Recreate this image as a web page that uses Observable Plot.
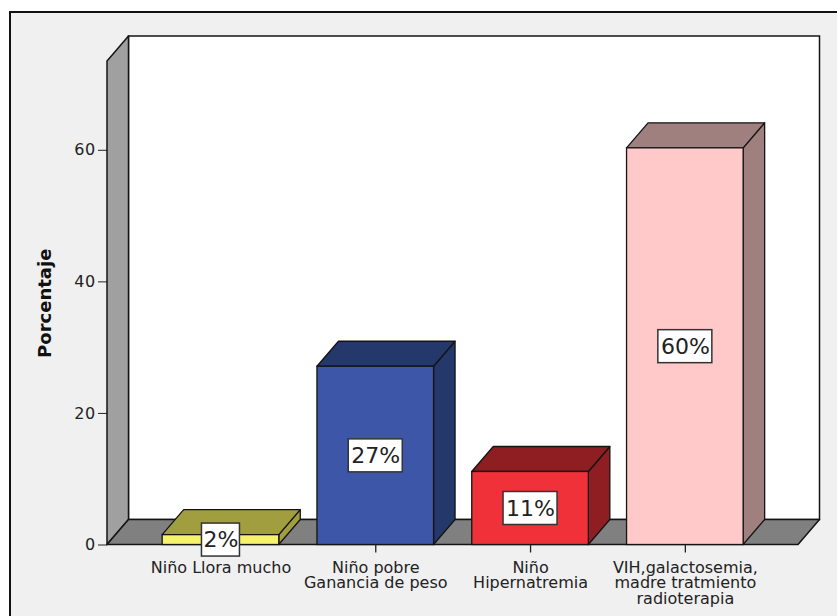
<!DOCTYPE html>
<html>
<head>
<meta charset="utf-8">
<script src="https://cdn.jsdelivr.net/npm/d3@7"></script>
<script src="https://cdn.jsdelivr.net/npm/@observablehq/plot@0.6"></script>
<style>
  body { margin: 0; background: white; }
  #wrap { position: relative; width: 837px; height: 616px; overflow: hidden; background: white; }
  #outer { position: absolute; left: 9px; top: 11px; width: 900px; height: 700px; border: 2px solid #111; background: #f0f0f0; }
  #chart { position: absolute; left: 0; top: 0; }
  g[aria-label="xlabels"] text { letter-spacing: 0.6px; }
  g[aria-label="y-axis tick label"] text { letter-spacing: 0.4px; }
</style>
</head>
<body>
<div id="wrap"><div id="outer"></div><div id="chart"></div></div>
<script>
// ---- data ----
const categories = [
  "Niño Llora mucho",
  "Niño pobre\nGanancia de peso",
  "Niño\nHipernatremia",
  "VIH,galactosemia,\nmadre tratmiento\nradioterapia"
];
const values = [1.5, 27.1, 11.1, 60.3];
const yTicks = [0, 20, 40, 60];
const frontColors = ["#f7f26c", "#3e56a8", "#f0313a", "#ffc9c9"];
const sideColors = ["#a19e40", "#25386b", "#8f1e22", "#a07f7f"];

// ---- layout constants (pixels) ----
const W = 837, H = 616;
const mL = 107, mR = 39, mT = 61, mB = 71.5;
const xDomain = [-0.733, 3.731];
const yDomain = [0, 73.5];
const pxPerX = (W - mL - mR) / (xDomain[1] - xDomain[0]);
const pxPerY = (H - mT - mB) / (yDomain[1] - yDomain[0]);
const DX = 21.5 / pxPerX;   // depth offset in x units
const DY = 25 / pxPerY;     // depth offset in y units
const HW = 58.3 / pxPerX;   // bar half-width
const BH = 33 / pxPerY;     // label box height

const bars = categories.map((c, i) => ({
  i, cat: c, v: values[i], front: frontColors[i], side: sideColors[i],
  label: Math.round(values[i]) + "%"
}));

const [xL, xR] = xDomain;
const yT = yDomain[1];

const backWall = [{x1: xL + DX, x2: xR + DX, y1: DY, y2: yT + DY}];
const leftWall = [
  {x: xL, y1: 0, y2: yT},
  {x: xL + DX, y1: DY, y2: yT + DY}
];
const floor = [
  {y: 0, x1: xL, x2: xR},
  {y: DY, x1: xL + DX, x2: xR + DX}
];
const sides = bars.flatMap(b => [
  {bar: b.i, x: b.i + HW, y1: 0, y2: b.v, fill: b.side},
  {bar: b.i, x: b.i + HW + DX, y1: DY, y2: b.v + DY, fill: b.side}
]);
const tops = bars.flatMap(b => [
  {bar: b.i, y: b.v, x1: b.i - HW, x2: b.i + HW, fill: b.side},
  {bar: b.i, y: b.v + DY, x1: b.i - HW + DX, x2: b.i + HW + DX, fill: b.side}
]);
const boxW = d => (16 * d.label.length + 6) / pxPerX;

const edge = "#141414";

const chart = Plot.plot({
  width: W, height: H,
  marginLeft: mL, marginRight: mR, marginTop: mT, marginBottom: mB,
  style: {background: "transparent", fontFamily: "DejaVu Sans", fontSize: "16px", color: "#222", overflow: "visible"},
  x: {domain: xDomain, axis: null},
  y: {domain: yDomain, ticks: yTicks, tickSize: 9, tickPadding: 3, label: null},
  color: {type: "identity"},
  marks: [
    Plot.rect(backWall, {x1: "x1", x2: "x2", y1: "y1", y2: "y2", fill: "white", stroke: edge, strokeWidth: 1.5}),
    Plot.area(leftWall, {x1: "x", y1: "y1", y2: "y2", fill: "#a0a0a0", stroke: edge, strokeWidth: 1.5}),
    Plot.area(floor, {y1: "y", x1: "x1", x2: "x2", fill: "#808080", stroke: edge, strokeWidth: 1.5}),
    Plot.area(sides, {x1: "x", y1: "y1", y2: "y2", z: "bar", fill: "fill", stroke: edge, strokeWidth: 1.3}),
    Plot.area(tops, {y1: "y", x1: "x1", x2: "x2", z: "bar", fill: "fill", stroke: edge, strokeWidth: 1.3}),
    Plot.rect(bars, {x1: d => d.i - HW, x2: d => d.i + HW, y1: 0, y2: "v", fill: "front", stroke: edge, strokeWidth: 1.3}),
    Plot.ruleX(bars, {x: "i", y1: 0, y2: -8 / pxPerY, stroke: "#222", strokeWidth: 1.3}),
    Plot.rect(bars, {
      x1: d => d.i - boxW(d) / 2, x2: d => d.i + boxW(d) / 2,
      y1: d => d.v / 2 - BH / 2, y2: d => d.v / 2 + BH / 2,
      fill: "white", stroke: "#333", strokeWidth: 1.5
    }),
    Plot.text(bars, {x: "i", y: d => d.v / 2, text: "label", fontSize: 22, fill: "#222"}),
    Plot.text(bars, {x: "i", y: 0, text: "cat", dy: 16.5, lineAnchor: "top", lineHeight: 0.97, fontSize: 16, fill: "#222", ariaLabel: "xlabels"}),
    Plot.text(["Porcentaje"], {frameAnchor: "left", textAnchor: "middle", rotate: -90, dx: -62, fontSize: 18, fontWeight: "bold", fill: "#111"})
  ]
});
document.getElementById("chart").appendChild(chart);
</script>
</body>
</html>
